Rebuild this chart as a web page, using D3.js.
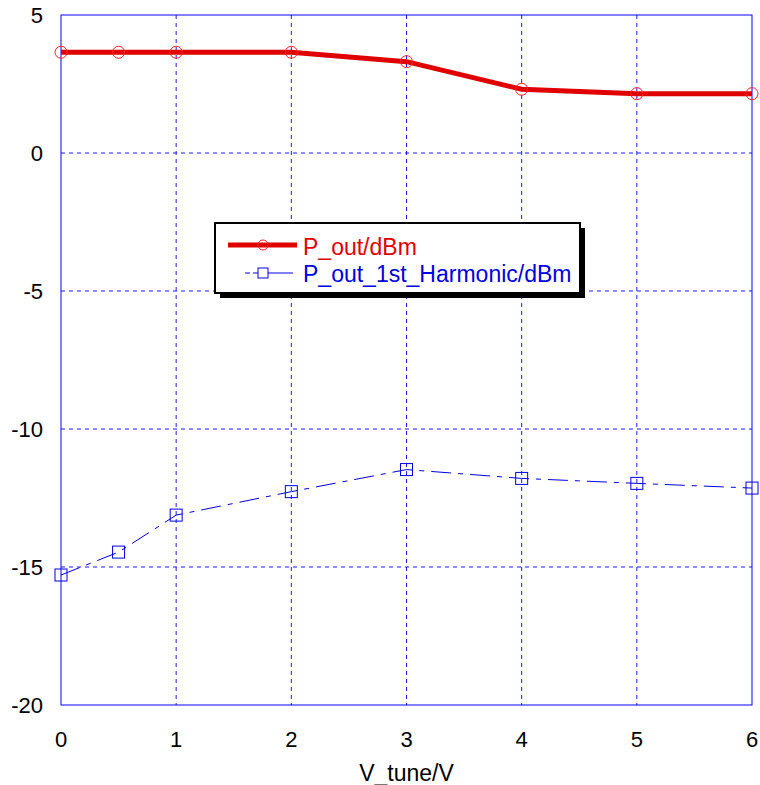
<!DOCTYPE html>
<html>
<head>
<meta charset="utf-8">
<script src="https://cdn.jsdelivr.net/npm/d3@7"></script>
<style>
  body { margin: 0; background: #fff; }
  text { font-family: "Liberation Sans", Arial, sans-serif; }
</style>
</head>
<body>
<div id="chart"></div>
<script>
// data
const vTune = [0, 0.5, 1, 2, 3, 4, 5, 6];
const pOut = [3.65, 3.65, 3.65, 3.65, 3.31, 2.31, 2.15, 2.15];
const pOutHarm = [-15.29, -14.46, -13.12, -12.27, -11.47, -11.79, -11.97, -12.14];
const xTicks = [0, 1, 2, 3, 4, 5, 6];
const yTicks = [5, 0, -5, -10, -15, -20];
const seriesNames = ['P_out/dBm', 'P_out_1st_Harmonic/dBm'];

const width = 760, height = 785;
const margin = {top: 15, right: 8, bottom: 80, left: 61};

const svg = d3.select('#chart').append('svg')
    .attr('width', width)
    .attr('height', height);

const x = d3.scaleLinear().domain([0, 6]).range([margin.left, width - margin.right]);
const y = d3.scaleLinear().domain([-20, 5]).range([height - margin.bottom, margin.top]);

// grid
const grid = svg.append('g').attr('class', 'grid');
grid.selectAll('.vgrid')
    .data(xTicks.slice(1, -1))
    .enter().append('line')
    .attr('x1', d => x(d)).attr('x2', d => x(d))
    .attr('y1', y(5)).attr('y2', y(-20))
    .attr('stroke', '#1a1aff')
    .attr('stroke-width', 1)
    .attr('stroke-dasharray', '4,4');
grid.selectAll('.hgrid')
    .data(yTicks.slice(1, -1))
    .enter().append('line')
    .attr('x1', x(0)).attr('x2', x(6))
    .attr('y1', d => y(d)).attr('y2', d => y(d))
    .attr('stroke', '#1a1aff')
    .attr('stroke-width', 1)
    .attr('stroke-dasharray', '4,4');

// frame
svg.append('rect')
    .attr('x', x(0)).attr('y', y(5))
    .attr('width', x(6) - x(0)).attr('height', y(-20) - y(5))
    .attr('fill', 'none')
    .attr('stroke', '#0000ff')
    .attr('stroke-width', 1);

// tick labels
svg.selectAll('.xlab')
    .data(xTicks)
    .enter().append('text')
    .attr('x', d => x(d))
    .attr('y', height - margin.bottom + 42)
    .attr('text-anchor', 'middle')
    .attr('font-size', '22px')
    .text(d => d);
svg.selectAll('.ylab')
    .data(yTicks)
    .enter().append('text')
    .attr('x', margin.left - 18)
    .attr('y', d => y(d) + 8)
    .attr('text-anchor', 'end')
    .attr('font-size', '22px')
    .text(d => d);

svg.append('text')
    .attr('x', (x(0) + x(6)) / 2)
    .attr('y', height - 4)
    .attr('text-anchor', 'middle')
    .attr('font-size', '23px')
    .text('V_tune/V');

// lines
const line = d3.line().x(d => x(d[0])).y(d => y(d[1]));
const redData = vTune.map((v, i) => [v, pOut[i]]);
const blueData = vTune.map((v, i) => [v, pOutHarm[i]]);

svg.append('path')
    .datum(blueData)
    .attr('d', line)
    .attr('fill', 'none')
    .attr('stroke', '#0000e0')
    .attr('stroke-width', 1)
    .attr('stroke-dasharray', '20,7,5,7');

svg.selectAll('.sq')
    .data(blueData)
    .enter().append('rect')
    .attr('x', d => x(d[0]) - 6)
    .attr('y', d => y(d[1]) - 6)
    .attr('width', 12).attr('height', 12)
    .attr('fill', 'none')
    .attr('stroke', '#0000e0')
    .attr('stroke-width', 1);

svg.append('path')
    .datum(redData)
    .attr('d', line)
    .attr('fill', 'none')
    .attr('stroke', '#e00000')
    .attr('stroke-width', 5);

svg.selectAll('.circ')
    .data(redData)
    .enter().append('circle')
    .attr('cx', d => x(d[0]))
    .attr('cy', d => y(d[1]))
    .attr('r', 6)
    .attr('fill', 'none')
    .attr('stroke', '#ff2020')
    .attr('stroke-width', 1);

// legend
const lg = svg.append('g').attr('transform', 'translate(215,223)');
lg.append('rect')
    .attr('x', 5).attr('y', 5)
    .attr('width', 365).attr('height', 70)
    .attr('fill', '#000');
lg.append('rect')
    .attr('width', 365).attr('height', 70)
    .attr('fill', '#fff')
    .attr('stroke', '#000')
    .attr('stroke-width', 2);

lg.append('line')
    .attr('x1', 13).attr('x2', 82).attr('y1', 22).attr('y2', 22)
    .attr('stroke', '#e00000').attr('stroke-width', 5);
lg.append('circle')
    .attr('cx', 48).attr('cy', 22).attr('r', 5)
    .attr('fill', 'none').attr('stroke', '#ff2020');
lg.append('text')
    .attr('x', 88).attr('y', 32)
    .attr('font-size', '23px')
    .attr('fill', '#e00000')
    .text(seriesNames[0]);

lg.append('line')
    .attr('x1', 30).attr('x2', 78).attr('y1', 50).attr('y2', 50)
    .attr('stroke', '#0000e0').attr('stroke-width', 1)
    .attr('stroke-dasharray', '5,3,40');
lg.append('rect')
    .attr('x', 43).attr('y', 45).attr('width', 10).attr('height', 10)
    .attr('fill', '#fff').attr('stroke', '#0000e0');
lg.append('text')
    .attr('x', 88).attr('y', 59)
    .attr('font-size', '23px')
    .attr('fill', '#0000e0')
    .text(seriesNames[1]);
</script>
</body>
</html>
